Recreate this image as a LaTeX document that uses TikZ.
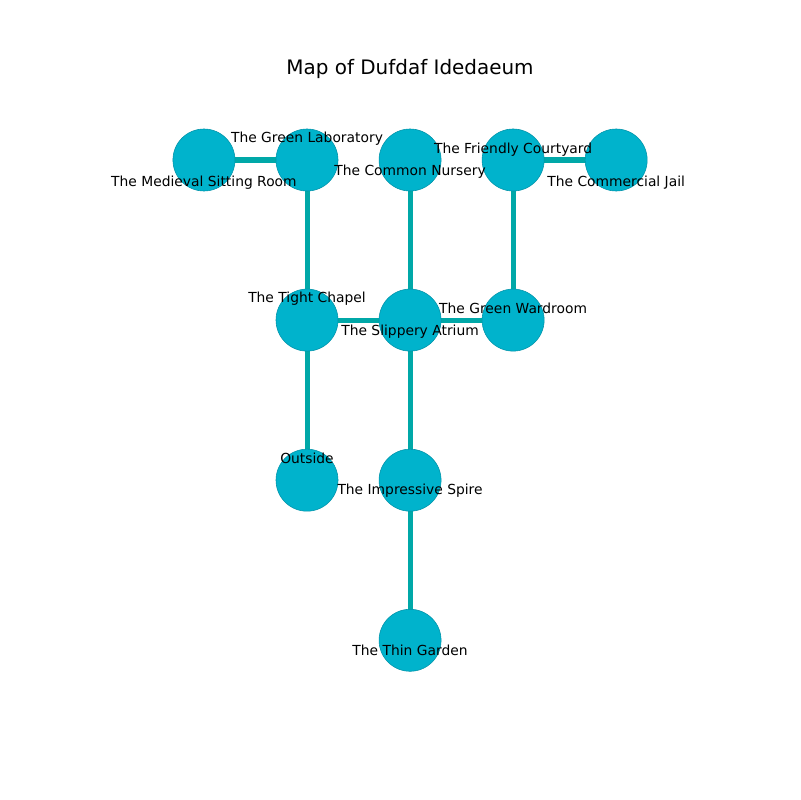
\documentclass[tikz,border=0pt]{standalone}
\usepackage{fontspec}
\setmainfont{DejaVu Sans}
\usetikzlibrary{positioning, backgrounds}
\definecolor{roomFill}{HTML}{00B3CC}
\definecolor{roomRim}{HTML}{0092A8}
\definecolor{hallTeal}{HTML}{00A8A8}
\begin{document}
\begin{tikzpicture}[
    x=0.01in, y=-0.01in,
    room/.style={circle, fill=roomFill, draw=roomRim, line width=0.4pt,
      minimum size=0.62in, inner sep=0pt},
    hall/.style={draw=hallTeal, line width=0.05in},
    lbl/.style={font=\fontsize{10}{12}\selectfont, inner sep=0pt, text=black},
    on grid, node distance=1.6in and 1.03in
  ]
    \useasboundingbox (0,0) rectangle (800,800);
    \node[font=\fontsize{14.4}{17}\selectfont] (title) at (410,69) {Map of Dufdaf Idedaeum};

    % rooms
    \node[room] (gl) at (307,160) {};
    \node[room, left=of gl] (ms) {};
    \node[room, right=of gl] (cn) {};
    \node[room, right=of cn] (fc) {};
    \node[room, right=of fc] (cj) {};
    \node[room, below=of gl] (tc) {};
    \node[room, below=of cn] (sa) {};
    \node[room, below=of fc] (gw) {};
    \node[room, below=of tc] (os) {};
    \node[room, below=of sa] (is) {};
    \node[room, below=of is] (tg) {};

    % halls, behind the rooms
    \begin{scope}[on background layer]
      \draw[hall] (ms.center) -- (gl.center);
      \draw[hall] (gl.center) -- (tc.center);
      \draw[hall] (cn.center) -- (sa.center);
      \draw[hall] (fc.center) -- (cj.center);
      \draw[hall] (fc.center) -- (gw.center);
      \draw[hall] (tc.center) -- (sa.center);
      \draw[hall] (sa.center) -- (gw.center);
      \draw[hall] (tc.center) -- (os.center);
      \draw[hall] (sa.center) -- (is.center);
      \draw[hall] (is.center) -- (tg.center);
    \end{scope}

    % labels
    \node[lbl, below=0.225in of ms] {The Medieval Sitting Room};
    \node[lbl, above=0.215in of gl] {The Green Laboratory};
    \node[lbl, below=0.115in of cn] {The Common Nursery};
    \node[lbl, above=0.105in of fc] {The Friendly Courtyard};
    \node[lbl, below=0.225in of cj] {The Commercial Jail};
    \node[lbl, above=0.215in of tc] {The Tight Chapel};
    \node[lbl, below=0.115in of sa] {The Slippery Atrium};
    \node[lbl, above=0.115in of gw] {The Green Wardroom};
    \node[lbl, above=0.215in of os] {Outside};
    \node[lbl, below=0.105in of is] {The Impressive Spire};
    \node[lbl, below=0.10in of tg] {The Thin Garden};
\end{tikzpicture}
\end{document}
